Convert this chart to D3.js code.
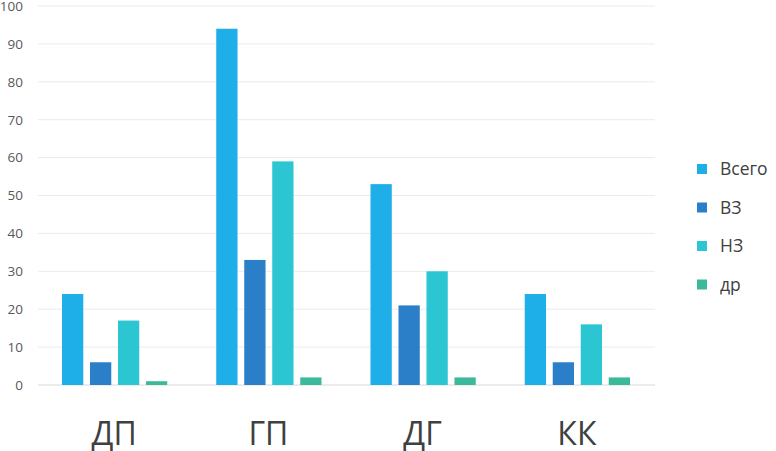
<!DOCTYPE html>
<html>
<head>
<meta charset="utf-8">
<script src="https://cdn.jsdelivr.net/npm/d3@7"></script>
<style>
  body { margin: 0; background: #fff; }
  svg { font-family: "Open Sans", sans-serif; }
</style>
</head>
<body>
<script>
'use strict';

// chart data
const categories = ["ДП", "ГП", "ДГ", "КК"];
const seriesNames = ["Всего", "ВЗ", "НЗ", "др"];
const vsego = [24, 94, 53, 24];
const vz = [6, 33, 21, 6];
const nz = [17, 59, 30, 16];
const dr = [1, 2, 2, 2];
const yTicks = [0, 10, 20, 30, 40, 50, 60, 70, 80, 90, 100];

const colors = ["#1eaee8", "#2b7fc8", "#2cc6d3", "#3cb99a"];
const seriesValues = [vsego, vz, nz, dr];

const width = 776, height = 451;

const svg = d3.select('body')
  .append('svg')
  .attr('width', width)
  .attr('height', height);

// scales
let x = d3.scaleBand()
  .domain(categories)
  .range([37, 654])
  .paddingInner(0)
  .paddingOuter(0);

let xInner = d3.scaleBand()
  .domain(seriesNames)
  .range([25, x.bandwidth() - 24])
  .paddingInner(0.24);

let y = d3.scaleLinear()
  .domain([0, 100])
  .range([385, 6]);

// gridlines
svg.append('g')
  .selectAll('line')
  .data(yTicks)
  .enter()
  .append('line')
    .attr('x1', 38)
    .attr('x2', 655)
    .attr('y1', d => y(d))
    .attr('y2', d => y(d))
    .attr('stroke', d => d === 0 ? '#d9d9d9' : '#ebebeb')
    .attr('stroke-width', 1);

// y axis labels
let yAxis = d3.axisLeft(y).tickValues(yTicks).tickSize(0).tickPadding(0);
let yg = svg.append('g')
  .attr('transform', 'translate(23, 0)')
  .call(yAxis);
yg.select('.domain').remove();
yg.selectAll('text')
  .attr('fill', '#595959')
  .style('font-size', '13.5px')
  .style('font-family', '"Open Sans", sans-serif');

// bars
let rows = [];
categories.forEach((c, i) => {
  seriesNames.forEach((s, j) => {
    rows.push({ cat: c, series: s, value: seriesValues[j][i], color: colors[j] });
  });
});

svg.append('g')
  .selectAll('rect')
  .data(rows)
  .enter()
  .append('rect')
    .attr('x', d => x(d.cat) + xInner(d.series))
    .attr('y', d => y(d.value))
    .attr('width', xInner.bandwidth())
    .attr('height', d => y(0) - y(d.value))
    .attr('fill', d => d.color);

// category labels
let xAxis = d3.axisBottom(x).tickSize(0).tickPadding(0);
let xg = svg.append('g')
  .attr('transform', 'translate(0, 422)')
  .call(xAxis);
xg.select('.domain').remove();
xg.selectAll('text')
  .attr('fill', '#404040')
  .style('font-size', '32px')
  .style('font-family', '"Open Sans", sans-serif');

// legend
let legend = svg.append('g')
  .selectAll('g')
  .data(seriesNames)
  .enter()
  .append('g')
    .attr('transform', (d, i) => 'translate(697,' + (169 + i * 38.5) + ')');

legend.append('rect')
  .attr('x', 0)
  .attr('y', -5)
  .attr('width', 10)
  .attr('height', 10)
  .attr('fill', (d, i) => colors[i]);

legend.append('text')
  .attr('x', 23)
  .attr('y', 0)
  .attr('dy', '0.35em')
  .attr('fill', '#404040')
  .style('font-size', '17.5px')
  .text(d => d);
</script>
</body>
</html>
